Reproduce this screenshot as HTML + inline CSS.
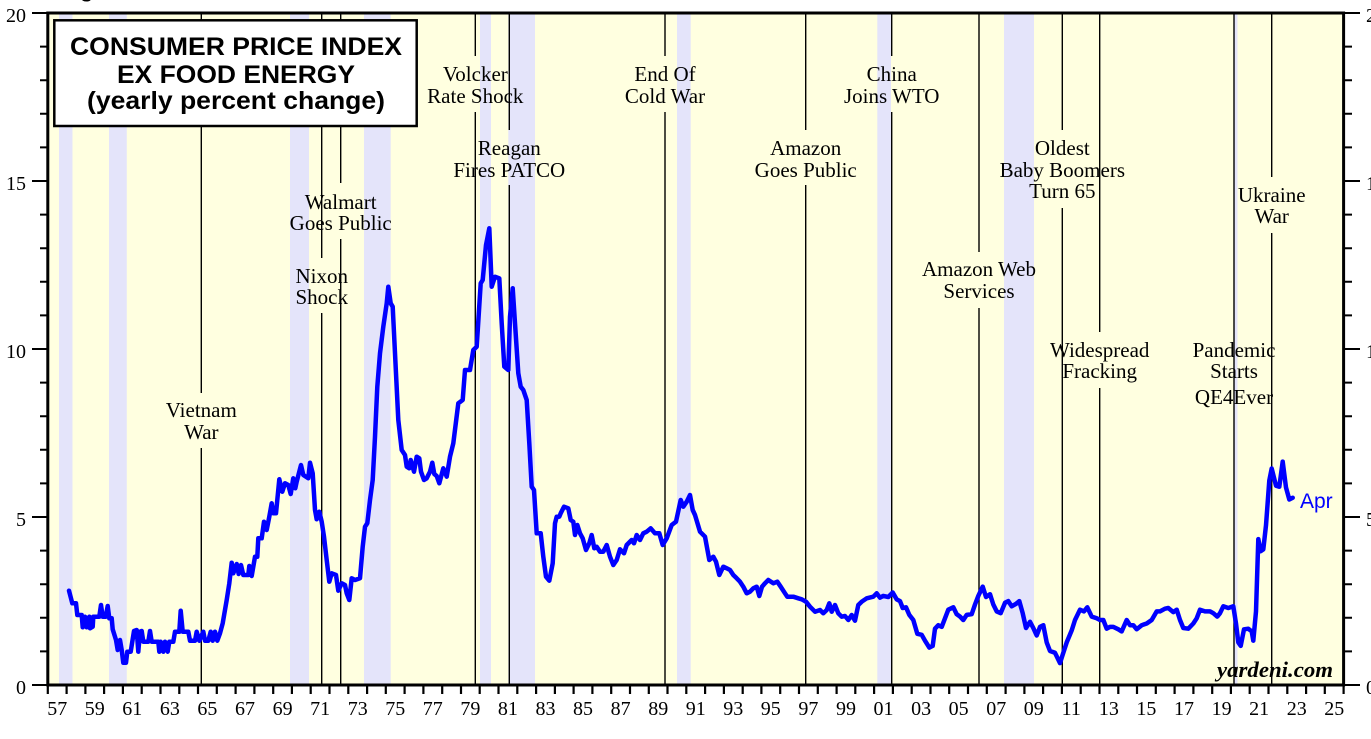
<!DOCTYPE html>
<html>
<head>
<meta charset="utf-8">
<style>
html,body{margin:0;padding:0;background:#fff;}
svg{display:block;}
text{font-family:"Liberation Serif","Times New Roman",serif;}
.lbl{font-size:21px;fill:#000;text-anchor:middle;}
.tk{font-size:20px;fill:#000;}
</style>
</head>
<body>
<svg width="1371" height="739" viewBox="0 0 1371 739" xmlns="http://www.w3.org/2000/svg">
<rect x="0" y="0" width="1371" height="739" fill="#fff"/>
<text x="80" y="-3" style="font-family:'Liberation Sans',sans-serif;font-weight:bold;font-size:22px">g</text>
<!-- plot bg -->
<rect x="47.8" y="13" width="1295.8" height="672" fill="#FFFFE0"/>
<!-- recession bars -->
<g fill="#E4E4FA">
<rect x="59" y="13" width="13.5" height="672"/>
<rect x="109" y="13" width="17.8" height="672"/>
<rect x="290" y="13" width="19" height="672"/>
<rect x="364" y="13" width="26.7" height="672"/>
<rect x="480" y="13" width="11" height="672"/>
<rect x="508.3" y="13" width="26.7" height="672"/>
<rect x="677" y="13" width="13.7" height="672"/>
<rect x="877.3" y="13" width="13.7" height="672"/>
<rect x="1004" y="13" width="30" height="672"/>
<rect x="1234" y="13" width="3.5" height="672"/>
</g>
<!-- event lines -->
<g stroke="#000" stroke-width="1.4" fill="none">
<path d="M201.3 13V393M201.3 448V685"/>
<path d="M321.7 13V258M321.7 313V685"/>
<path d="M340.7 13V183M340.7 239V685"/>
<path d="M475.3 13V56M475.3 112V685"/>
<path d="M509.3 13V130M509.3 185V685"/>
<path d="M665 13V56M665 112V685"/>
<path d="M805.7 13V130M805.7 185V685"/>
<path d="M891.7 13V56M891.7 112V685"/>
<path d="M979 13V252M979 308V685"/>
<path d="M1062.3 13V130M1062.3 208V685"/>
<path d="M1099.7 13V332M1099.7 388V685"/>
<path d="M1234 13V685"/>
<path d="M1271.7 13V177M1271.7 233V685"/>
</g>
<!-- annotations -->
<g class="lbl">
<text class="lbl" x="201.3" y="417">Vietnam</text>
<text class="lbl" x="201.3" y="439">War</text>
<text class="lbl" x="321.7" y="283">Nixon</text>
<text class="lbl" x="321.7" y="304">Shock</text>
<text class="lbl" x="340.7" y="209">Walmart</text>
<text class="lbl" x="340.7" y="230">Goes Public</text>
<text class="lbl" x="475.3" y="81">Volcker</text>
<text class="lbl" x="475.3" y="103">Rate Shock</text>
<text class="lbl" x="509.3" y="155">Reagan</text>
<text class="lbl" x="509.3" y="177">Fires PATCO</text>
<text class="lbl" x="665" y="81">End Of</text>
<text class="lbl" x="665" y="103">Cold War</text>
<text class="lbl" x="805.7" y="155">Amazon</text>
<text class="lbl" x="805.7" y="177">Goes Public</text>
<text class="lbl" x="891.7" y="81">China</text>
<text class="lbl" x="891.7" y="103">Joins WTO</text>
<text class="lbl" x="979" y="276">Amazon Web</text>
<text class="lbl" x="979" y="298">Services</text>
<text class="lbl" x="1062.3" y="155">Oldest</text>
<text class="lbl" x="1062.3" y="177">Baby Boomers</text>
<text class="lbl" x="1062.3" y="198">Turn 65</text>
<text class="lbl" x="1099.7" y="357">Widespread</text>
<text class="lbl" x="1099.7" y="378">Fracking</text>
<text class="lbl" x="1234" y="357">Pandemic</text>
<text class="lbl" x="1234" y="378">Starts</text>
<text class="lbl" x="1234" y="404">QE4Ever</text>
<text class="lbl" x="1271.7" y="202">Ukraine</text>
<text class="lbl" x="1271.7" y="223">War</text>
</g>
<!-- data -->
<polyline fill="none" stroke="#0000FF" stroke-width="4.5" stroke-linejoin="round" stroke-linecap="round" points="
69.0,590.7 72.3,603.3 76.0,603.3 77.3,615.0 81.7,615.0 82.7,627.3 85.0,616.7 86.7,627.3 89.3,616.7 90.0,628.3 92.7,626.7 93.3,616.7 99.3,616.7 101.0,605.0 102.7,616.7 105.7,616.7 107.7,606.0 109.3,618.3 111.7,618.3 112.7,629.3 116.0,640.0 117.7,650.0 120.0,640.0 121.7,650.0 123.3,662.7 126.0,662.7 127.3,651.7 130.7,651.7 134.0,631.0 136.7,630.0 138.3,651.7 140.0,631.7 141.7,631.0 143.3,641.7 148.3,641.7 150.0,631.0 151.7,641.7 158.3,641.7 159.3,651.7 160.7,641.7 163.3,651.7 165.0,641.7 167.7,651.7 169.3,641.7 173.3,641.7 175.0,631.7 179.3,631.7 180.7,610.7 182.7,631.7 188.3,631.7 190.0,640.7 195.0,640.7 196.7,631.7 199.3,640.7 203.3,631.7 205.0,640.7 208.3,640.7 210.7,631.7 212.7,640.7 215.0,631.7 217.3,640.7 220.0,633.3 222.7,623.3 226.7,600.0 229.3,583.3 231.7,562.7 233.3,573.3 236.7,564.0 238.7,574.0 241.0,565.0 243.3,575.0 248.3,575.0 249.3,566.0 251.7,576.0 255.0,556.7 257.3,556.7 258.3,538.3 261.7,538.3 264.0,521.7 266.7,530.0 269.3,516.7 271.7,503.3 273.3,513.3 276.0,513.3 279.3,479.3 282.3,491.7 285.0,483.3 288.3,485.0 290.7,494.0 293.3,478.3 295.3,488.3 296.7,481.7 301.0,465.0 303.3,475.0 308.3,478.3 310.0,462.7 312.7,473.3 315.0,510.0 316.7,519.3 319.3,511.7 321.7,521.7 324.0,536.7 326.7,560.0 329.3,581.7 331.7,573.3 336.0,575.0 338.3,590.7 341.7,583.3 345.0,585.0 346.7,593.3 349.3,600.0 351.7,578.3 355.0,580.0 360.0,578.3 362.7,546.7 365.0,526.7 367.3,523.3 370.0,500.0 372.7,480.0 375.0,436.7 377.3,386.7 380.0,353.3 383.3,326.7 386.7,303.3 388.3,286.7 390.7,303.3 392.7,306.7 395.0,353.3 398.3,420.0 401.7,450.0 405.0,455.0 406.7,466.7 409.3,468.3 410.7,460.0 414.0,471.7 416.7,456.7 419.3,458.3 421.0,471.7 424.0,480.0 426.7,478.3 430.0,471.7 432.3,462.7 434.3,474.0 436.7,476.0 439.3,483.3
443.3,468.3 446.7,476.7 450.0,456.7 453.3,443.3 458.3,403.3 462.7,400.0 465.0,370.0 470.0,370.0 473.3,350.0 476.7,346.7 480.7,283.3 482.7,280.0 486.0,245.0 489.3,228.3 491.7,286.7 495.0,276.7 499.3,278.3 501.7,323.3 504.3,366.7 508.3,370.0 510.0,316.7 512.7,288.3 515.0,323.3 518.3,373.3 520.7,386.7 523.3,390.0 526.7,400.0 529.3,443.3 531.7,486.7 534.0,490.0 536.7,533.3 540.7,533.3 543.3,556.7 546.0,576.7 549.3,580.7 552.7,563.3 555.0,523.3 556.7,516.7 559.3,516.7 560.7,513.3 564.0,506.7 568.3,508.3 570.7,520.0 573.3,521.7 575.0,535.0 577.3,525.0 580.0,533.3 582.7,538.3 586.0,550.0 589.3,543.3 591.7,535.0 594.3,548.3 596.7,546.7 600.0,551.7 603.3,551.7 606.7,545.0 610.0,556.7 613.3,565.0 616.7,560.0 620.0,549.3 624.0,553.3 626.7,545.0 631.7,540.0 634.0,543.3 636.7,535.0 640.0,540.0 643.3,533.3 646.7,531.7 650.7,528.3 655.0,533.3 659.3,533.3 662.7,545.0 666.7,538.3 671.7,525.0 676.0,521.7 680.7,500.0 683.3,506.7 686.7,501.7 690.0,495.0 692.7,510.0 695.0,515.0 700.0,531.7 705.0,536.7 709.3,560.0 713.3,556.7 716.0,561.7 719.3,575.0 723.3,566.7 726.7,568.3 730.0,570.0 733.3,575.0 736.7,578.3 740.0,581.7 743.3,586.7 746.7,593.3 750.0,591.7 753.3,588.3 756.7,586.7 759.3,596.0 762.0,586.7 765.0,583.3 768.3,580.0 773.3,583.3 777.3,581.7 780.7,586.7 785.0,593.3 787.3,596.7 793.3,596.7 798.3,598.3 801.7,599.3 806.0,601.7 810.0,606.7 815.0,611.7 820.0,610.0 823.3,613.3 826.7,610.0 829.3,603.3 831.7,611.7 835.0,605.0 838.3,613.3 841.7,616.7 845.0,616.0 848.3,620.0 851.7,615.0 855.0,620.7 858.3,605.0 861.7,601.7 866.7,598.3 873.3,596.7 876.7,593.3
880.0,597.7 883.3,595.9 888.3,597.0 892.7,592.5 896.7,599.4 900.0,601.1 902.7,608.0 906.0,607.3 909.3,614.9 913.3,620.0 917.3,633.8 921.7,634.8 925.0,640.7 929.3,647.6 932.7,645.9 935.0,628.7 938.3,625.2 941.7,626.9 945.0,618.3 948.3,609.7 953.3,607.3 956.7,614.2 960.0,616.6 963.3,620.0 966.7,614.9 971.7,614.2 975.0,604.5 978.3,595.9 982.7,586.6 986.0,597.0 990.0,594.2 993.3,604.5 996.7,611.4 1000.7,613.2 1005.0,602.8 1008.3,601.1 1011.7,606.3 1016.0,603.9 1019.3,601.1 1022.7,613.2 1026.0,628.0 1030.0,621.8 1033.3,628.0 1036.7,635.5 1040.0,626.9 1043.3,625.2 1046.7,642.4 1050.0,651.0 1055.0,652.8 1060.0,663.1 1063.3,652.8 1066.7,642.4 1071.7,630.4 1075.0,620.0 1080.0,609.7 1084.0,611.4 1087.3,607.3 1091.7,616.6 1096.7,618.3 1100.0,620.0 1103.3,620.0 1106.7,628.7 1110.0,626.9 1113.3,626.9 1118.3,629.3 1121.7,631.4 1126.7,620.0 1130.0,625.2 1133.3,625.2 1136.7,629.3 1141.7,625.2 1146.7,623.5 1151.7,620.0 1156.7,611.4 1160.0,611.4 1165.0,608.7 1168.3,608.0 1173.3,612.1 1176.7,609.7 1180.0,620.0 1183.3,628.0 1188.3,628.7 1193.3,623.5 1196.7,618.3 1200.0,609.7 1205.0,611.4 1210.0,611.4 1213.3,613.2 1217.3,616.6 1220.0,613.2 1223.3,606.3 1228.3,608.0 1233.3,606.3 1236.0,623.5 1238.3,642.4 1240.7,645.9 1244.0,629.3 1248.3,628.7 1251.7,631.4 1253.3,640.7 1256.0,611.4 1258.3,539.1 1260.7,551.2 1263.3,549.4 1266.0,525.3 1269.3,480.6 1271.7,468.5 1276.0,485.7 1279.3,486.8 1282.7,461.6 1286.0,487.5 1289.3,499.5 1292.7,497.8"/>
<text x="1300" y="508" style="font-family:'Liberation Sans',Arial,sans-serif;font-size:21px;fill:#0000FF">Apr</text>
<text x="1333" y="677" text-anchor="end" textLength="116" lengthAdjust="spacingAndGlyphs" style="font-family:'Liberation Serif',serif;font-weight:bold;font-style:italic;font-size:22px;fill:#000">yardeni.com</text>
<!-- title box -->
<rect x="54.3" y="20.3" width="362.4" height="105.7" fill="#fff" stroke="#000" stroke-width="2.5"/>
<g style="font-family:'Liberation Sans',Arial,sans-serif;font-weight:bold;font-size:25px;fill:#000" text-anchor="middle">
<text x="236" y="55" style="font-family:'Liberation Sans',Arial,sans-serif" textLength="332" lengthAdjust="spacingAndGlyphs">CONSUMER PRICE INDEX</text>
<text x="236" y="83" style="font-family:'Liberation Sans',Arial,sans-serif" textLength="238" lengthAdjust="spacingAndGlyphs">EX FOOD ENERGY</text>
<text x="236" y="109" style="font-family:'Liberation Sans',Arial,sans-serif" textLength="298" lengthAdjust="spacingAndGlyphs">(yearly percent change)</text>
</g>
<!-- frame -->
<rect x="47.8" y="13" width="1295.8" height="672" fill="none" stroke="#000" stroke-width="3"/>
<!-- left/right ticks -->
<g stroke="#000" stroke-width="2">
<path d="M32 13H48M40 46.6H48M40 80.2H48M40 113.8H48M40 147.4H48M32 181H48M40 214.6H48M40 248.2H48M40 281.8H48M40 315.4H48M32 349H48M40 382.6H48M40 416.2H48M40 449.8H48M40 483.4H48M32 517H48M40 550.6H48M40 584.2H48M40 617.8H48M40 651.4H48M32 685H48"/>
<path d="M1344 13H1360M1344 46.6H1352M1344 80.2H1352M1344 113.8H1352M1344 147.4H1352M1344 181H1360M1344 214.6H1352M1344 248.2H1352M1344 281.8H1352M1344 315.4H1352M1344 349H1360M1344 382.6H1352M1344 416.2H1352M1344 449.8H1352M1344 483.4H1352M1344 517H1360M1344 550.6H1352M1344 584.2H1352M1344 617.8H1352M1344 651.4H1352M1344 685H1360"/>
</g>
<g class="tk" text-anchor="end">
<text class="tk" x="26" y="22">20</text>
<text class="tk" x="26" y="190">15</text>
<text class="tk" x="26" y="358">10</text>
<text class="tk" x="26" y="526">5</text>
<text class="tk" x="26" y="694">0</text>
</g>
<g>
<text class="tk" x="1366" y="22">20</text>
<text class="tk" x="1366" y="190">15</text>
<text class="tk" x="1366" y="358">10</text>
<text class="tk" x="1366" y="526">5</text>
<text class="tk" x="1366" y="694">0</text>
</g>
<!-- bottom ticks -->
<path stroke="#000" stroke-width="2.2" d="M47.8 685V694M66.6 685V694M85.4 685V694M104.1 685V694M122.9 685V694M141.7 685V694M160.5 685V694M179.3 685V694M198.0 685V694M216.8 685V694M235.6 685V694M254.4 685V694M273.2 685V694M291.9 685V694M310.7 685V694M329.5 685V694M348.3 685V694M367.1 685V694M385.8 685V694M404.6 685V694M423.4 685V694M442.2 685V694M461.0 685V694M479.7 685V694M498.5 685V694M517.3 685V694M536.1 685V694M554.9 685V694M573.6 685V694M592.4 685V694M611.2 685V694M630.0 685V694M648.8 685V694M667.5 685V694M686.3 685V694M705.1 685V694M723.9 685V694M742.7 685V694M761.4 685V694M780.2 685V694M799.0 685V694M817.8 685V694M836.6 685V694M855.3 685V694M874.1 685V694M892.9 685V694M911.7 685V694M930.5 685V694M949.2 685V694M968.0 685V694M986.8 685V694M1005.6 685V694M1024.4 685V694M1043.1 685V694M1061.9 685V694M1080.7 685V694M1099.5 685V694M1118.3 685V694M1137.0 685V694M1155.8 685V694M1174.6 685V694M1193.4 685V694M1212.2 685V694M1230.9 685V694M1249.7 685V694M1268.5 685V694M1287.3 685V694M1306.1 685V694M1324.8 685V694M1343.6 685V694"/>
<g text-anchor="middle">
<text class="tk" x="57.2" y="715" text-anchor="middle">57</text>
<text class="tk" x="94.8" y="715" text-anchor="middle">59</text>
<text class="tk" x="132.3" y="715" text-anchor="middle">61</text>
<text class="tk" x="169.9" y="715" text-anchor="middle">63</text>
<text class="tk" x="207.4" y="715" text-anchor="middle">65</text>
<text class="tk" x="245.0" y="715" text-anchor="middle">67</text>
<text class="tk" x="282.6" y="715" text-anchor="middle">69</text>
<text class="tk" x="320.1" y="715" text-anchor="middle">71</text>
<text class="tk" x="357.7" y="715" text-anchor="middle">73</text>
<text class="tk" x="395.2" y="715" text-anchor="middle">75</text>
<text class="tk" x="432.8" y="715" text-anchor="middle">77</text>
<text class="tk" x="470.4" y="715" text-anchor="middle">79</text>
<text class="tk" x="507.9" y="715" text-anchor="middle">81</text>
<text class="tk" x="545.5" y="715" text-anchor="middle">83</text>
<text class="tk" x="583.0" y="715" text-anchor="middle">85</text>
<text class="tk" x="620.6" y="715" text-anchor="middle">87</text>
<text class="tk" x="658.2" y="715" text-anchor="middle">89</text>
<text class="tk" x="695.7" y="715" text-anchor="middle">91</text>
<text class="tk" x="733.3" y="715" text-anchor="middle">93</text>
<text class="tk" x="770.8" y="715" text-anchor="middle">95</text>
<text class="tk" x="808.4" y="715" text-anchor="middle">97</text>
<text class="tk" x="846.0" y="715" text-anchor="middle">99</text>
<text class="tk" x="883.5" y="715" text-anchor="middle">01</text>
<text class="tk" x="921.1" y="715" text-anchor="middle">03</text>
<text class="tk" x="958.6" y="715" text-anchor="middle">05</text>
<text class="tk" x="996.2" y="715" text-anchor="middle">07</text>
<text class="tk" x="1033.8" y="715" text-anchor="middle">09</text>
<text class="tk" x="1071.3" y="715" text-anchor="middle">11</text>
<text class="tk" x="1108.9" y="715" text-anchor="middle">13</text>
<text class="tk" x="1146.4" y="715" text-anchor="middle">15</text>
<text class="tk" x="1184.0" y="715" text-anchor="middle">17</text>
<text class="tk" x="1221.6" y="715" text-anchor="middle">19</text>
<text class="tk" x="1259.1" y="715" text-anchor="middle">21</text>
<text class="tk" x="1296.7" y="715" text-anchor="middle">23</text>
<text class="tk" x="1334.2" y="715" text-anchor="middle">25</text>
</g>
</svg>
</body>
</html>
